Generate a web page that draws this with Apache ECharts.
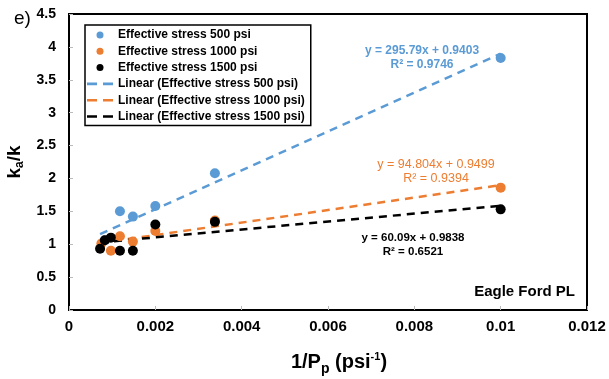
<!DOCTYPE html>
<html><head><meta charset="utf-8">
<script src="https://cdn.jsdelivr.net/npm/echarts@6/dist/echarts.min.js"></script>
<style>html,body{margin:0;padding:0;background:#fff}#c{width:609px;height:379px}</style>
</head><body><div id="c"></div>
<script>
// ---- data ----
const xBlue   = [0.00083, 0.00118, 0.00148, 0.002, 0.00338, 0.01];
const yBlue   = [1.06, 1.50, 1.42, 1.58, 2.08, 3.83];
const xOrange = [0.00075, 0.00097, 0.00118, 0.00148, 0.002, 0.00338, 0.01];
const yOrange = [1.01, 0.90, 1.12, 1.04, 1.20, 1.36, 1.86];
const xBlack  = [0.00072, 0.00083, 0.00097, 0.00118, 0.00148, 0.002, 0.00338, 0.01];
const yBlack  = [0.93, 1.06, 1.10, 0.90, 0.90, 1.30, 1.34, 1.53];
// trend line endpoints (x, y) as drawn
const trendX      = [0.00072, 0.01];
const trendBlue   = [1.153, 3.898];
const trendOrange = [1.018, 1.898];
const trendBlack  = [1.027, 1.585];
const seriesNames = ['Effective stress 500 psi','Effective stress 1000 psi','Effective stress 1500 psi',
  'Linear (Effective stress 500 psi)','Linear (Effective stress 1000 psi)','Linear (Effective stress 1500 psi)'];
const eqBlue   = ['y = 295.79x + 0.9403', 'R² = 0.9746'];
const eqOrange = ['y = 94.804x + 0.9499', 'R² = 0.9394'];
const eqBlack  = ['y = 60.09x + 0.9838', 'R² = 0.6521'];

const C_BLUE = '#5B9BD5', C_OR = '#ED7D31', C_BK = '#000000';
const zip = (xs, ys) => xs.map((x, i) => [x, ys[i]]);
const FONT = 'Liberation Sans, Arial, sans-serif';
const DASH_ICON = 'path://M0,0h10v2.6h-10z M16,0h10v2.6h-10z';
const DOT_ICON = 'circle';

const chart = echarts.init(document.getElementById('c'), null, {renderer: 'canvas'});
const lineSeries = (name, ys, color) => ({
  name, type: 'line', data: zip(trendX, ys), showSymbol: false, symbol: 'none',
  lineStyle: {color, width: 2.5, type: [8, 6]}, itemStyle: {color}, z: 2, silent: true
});
const scatterSeries = (name, xs, ys, color) => ({
  name, type: 'scatter', data: zip(xs, ys), symbolSize: 10, itemStyle: {color, opacity: 1}, z: 3
});
const legendColors = [C_BLUE, C_OR, C_BK, C_BLUE, C_OR, C_BK];
chart.setOption({
  animation: false,
  grid: {left: 69, right: 22, top: 14, bottom: 69, show: true, borderColor: '#000', borderWidth: 2,
    containLabel: false, outerBoundsMode: 'none'},
  xAxis: {
    type: 'value', min: 0, max: 0.012, interval: 0.002,
    axisLine: {show: true, lineStyle: {color: '#000', width: 2}},
    axisTick: {show: true, inside: true, length: 4, lineStyle: {color: '#bbb'}},
    splitLine: {show: false},
    axisLabel: {color: '#000', fontWeight: 'bold', fontSize: 15, fontFamily: FONT, margin: 9,
      formatter: v => String(+v.toFixed(4))},
    name: '1/P{sub|p} (psi{sup|-1})', nameLocation: 'middle', nameGap: 38,
    nameTextStyle: {color: '#000', fontWeight: 'bold', fontSize: 20, fontFamily: FONT, padding: [0, 0, 0, 22],
      rich: {sub: {fontSize: 14, fontWeight: 'bold', fontFamily: FONT, padding: [14, 0, 0, 0]},
             sup: {fontSize: 11, fontWeight: 'bold', fontFamily: FONT, padding: [0, 0, 10, 0]}}}
  },
  yAxis: {
    type: 'value', min: 0, max: 4.5, interval: 0.5,
    axisLine: {show: true, lineStyle: {color: '#000', width: 2}},
    axisTick: {show: true, inside: true, length: 4, lineStyle: {color: '#bbb'}},
    splitLine: {show: false},
    axisLabel: {color: '#000', fontWeight: 'bold', fontSize: 14, fontFamily: FONT, margin: 13},
    name: 'k{sub|a}/k', nameLocation: 'middle', nameGap: 42, nameRotate: 90,
    nameTextStyle: {color: '#000', fontWeight: 'bold', fontSize: 19, fontFamily: FONT,
      rich: {sub: {fontSize: 12, fontWeight: 'bold', fontFamily: FONT, padding: [10, 0, 0, 0]}}}
  },
  legend: {
    orient: 'vertical', left: 85, top: 25,
    data: seriesNames.map((n, i) => ({name: n, icon: i < 3 ? DOT_ICON : DASH_ICON,
      itemStyle: {color: legendColors[i], opacity: 1}})),
    itemWidth: 26, itemHeight: 7, itemGap: 4.3,
    padding: [4, 6, 3, 2], borderColor: '#000', borderWidth: 1.5, backgroundColor: '#fff',
    textStyle: {color: '#000', fontWeight: 'bold', fontSize: 12, fontFamily: FONT},
    selectedMode: false
  },
  series: [
    scatterSeries(seriesNames[0], xBlue, yBlue, C_BLUE),
    scatterSeries(seriesNames[1], xOrange, yOrange, C_OR),
    scatterSeries(seriesNames[2], xBlack, yBlack, C_BK),
    lineSeries(seriesNames[3], trendBlue, C_BLUE),
    lineSeries(seriesNames[4], trendOrange, C_OR),
    lineSeries(seriesNames[5], trendBlack, C_BK)
  ],
  graphic: [
    {type: 'text', left: 14, top: 9, style: {text: 'e)', fontSize: 19, fontFamily: FONT, fill: '#000'}},
    {type: 'text', x: 422, y: 58, style: {text: eqBlue.join('\n'), align: 'center', verticalAlign: 'middle',
      fontSize: 12, lineHeight: 14, fontWeight: 'bold', fontFamily: FONT, fill: C_BLUE}},
    {type: 'text', x: 436, y: 172, style: {text: eqOrange.join('\n'), align: 'center', verticalAlign: 'middle',
      fontSize: 12.5, lineHeight: 14, fontFamily: FONT, fill: C_OR}},
    {type: 'text', x: 413, y: 245, style: {text: eqBlack.join('\n'), align: 'center', verticalAlign: 'middle',
      fontSize: 11.5, lineHeight: 14, fontWeight: 'bold', fontFamily: FONT, fill: C_BK}},
    {type: 'text', x: 575, y: 292, style: {text: 'Eagle Ford PL', align: 'right', verticalAlign: 'middle',
      fontSize: 15, fontWeight: 'bold', fontFamily: FONT, fill: '#000'}}
  ]
});
</script></body></html>
